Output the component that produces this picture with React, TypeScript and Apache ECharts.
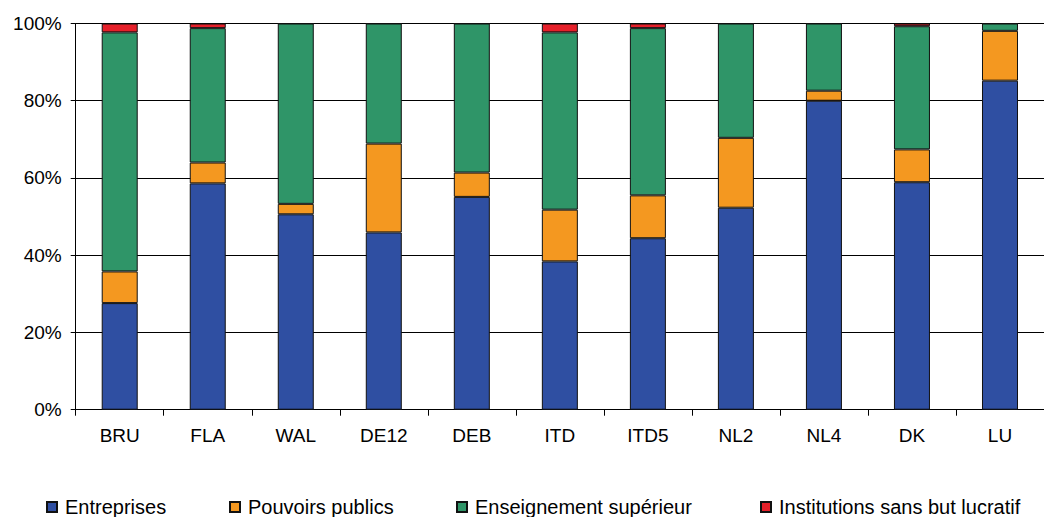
import React, { useEffect, useRef } from "react";
import * as echarts from "echarts";

const categories = ["BRU", "FLA", "WAL", "DE12", "DEB", "ITD", "ITD5", "NL2", "NL4", "DK", "LU"];
const entreprises = [27.6, 58.6, 50.6, 45.9, 55.1, 38.4, 44.4, 52.3, 80.0, 58.9, 85.2];
const pouvoirsPublics = [8.2, 5.4, 2.7, 23.0, 6.3, 13.4, 11.1, 18.1, 2.6, 8.5, 12.9];
const enseignementSuperieur = [61.9, 34.8, 46.7, 31.1, 38.6, 45.9, 43.3, 29.6, 17.4, 31.9, 1.9];
const institutionsSansBut = [2.3, 1.2, 0, 0, 0, 2.3, 1.2, 0, 0, 0.7, 0];
const yTicks = [0, 20, 40, 60, 80, 100];

const seriesNames = ["Entreprises", "Pouvoirs publics", "Enseignement supérieur", "Institutions sans but lucratif"];
const seriesColors = ["#2F4FA2", "#F49820", "#2F9568", "#E5202A"];
const seriesData = [entreprises, pouvoirsPublics, enseignementSuperieur, institutionsSansBut];
const legendLefts = [46, 229, 456, 760];

const FONT = "'Liberation Sans', Arial, sans-serif";

export default function App() {
  const ref = useRef<HTMLDivElement>(null);
  useEffect(() => {
    if (!ref.current) return;
    const chart = echarts.init(ref.current, undefined, { renderer: "svg" });
    chart.setOption({
      animation: false,
      textStyle: { fontFamily: FONT },
      grid: { left: 75.7, right: -16.3, top: 23.5, bottom: 107.3, containLabel: false },
      legend: seriesNames.map((n, i) => ({
        data: [n],
        left: legendLefts[i],
        top: 497,
        padding: 0,
        itemWidth: 10,
        itemHeight: 10,
        icon: "rect",
        textStyle: { fontSize: 20, color: "#000", fontFamily: FONT, padding: [0, 0, 0, 3] },
        selectedMode: false,
      })),
      xAxis: {
        type: "category",
        data: categories,
        axisLine: { lineStyle: { color: "#000", width: 1 } },
        axisTick: { show: true, length: 6, lineStyle: { color: "#000" } },
        axisLabel: { fontSize: 19, color: "#000", margin: 16, fontFamily: FONT },
      },
      yAxis: {
        type: "value",
        min: yTicks[0],
        max: yTicks[yTicks.length - 1],
        interval: 20,
        axisLine: { show: true, lineStyle: { color: "#000", width: 1 } },
        axisTick: { show: true, length: 5, lineStyle: { color: "#000" } },
        axisLabel: { fontSize: 19, color: "#000", margin: 14, formatter: "{value}%", fontFamily: FONT },
        splitLine: { show: true, lineStyle: { color: "#000", width: 1 } },
      },
      series: seriesNames.map((n, i) => ({
        name: n,
        type: "bar",
        stack: "total",
        barWidth: 36,
        data: seriesData[i],
        itemStyle: { color: seriesColors[i], borderColor: "#111", borderWidth: 1 },
      })),
    });
    return () => chart.dispose();
  }, []);
  return (
    <div
      ref={ref}
      style={{ position: "fixed", left: 0, top: 0, width: 1044, height: 517, background: "#fff" }}
    />
  );
}
